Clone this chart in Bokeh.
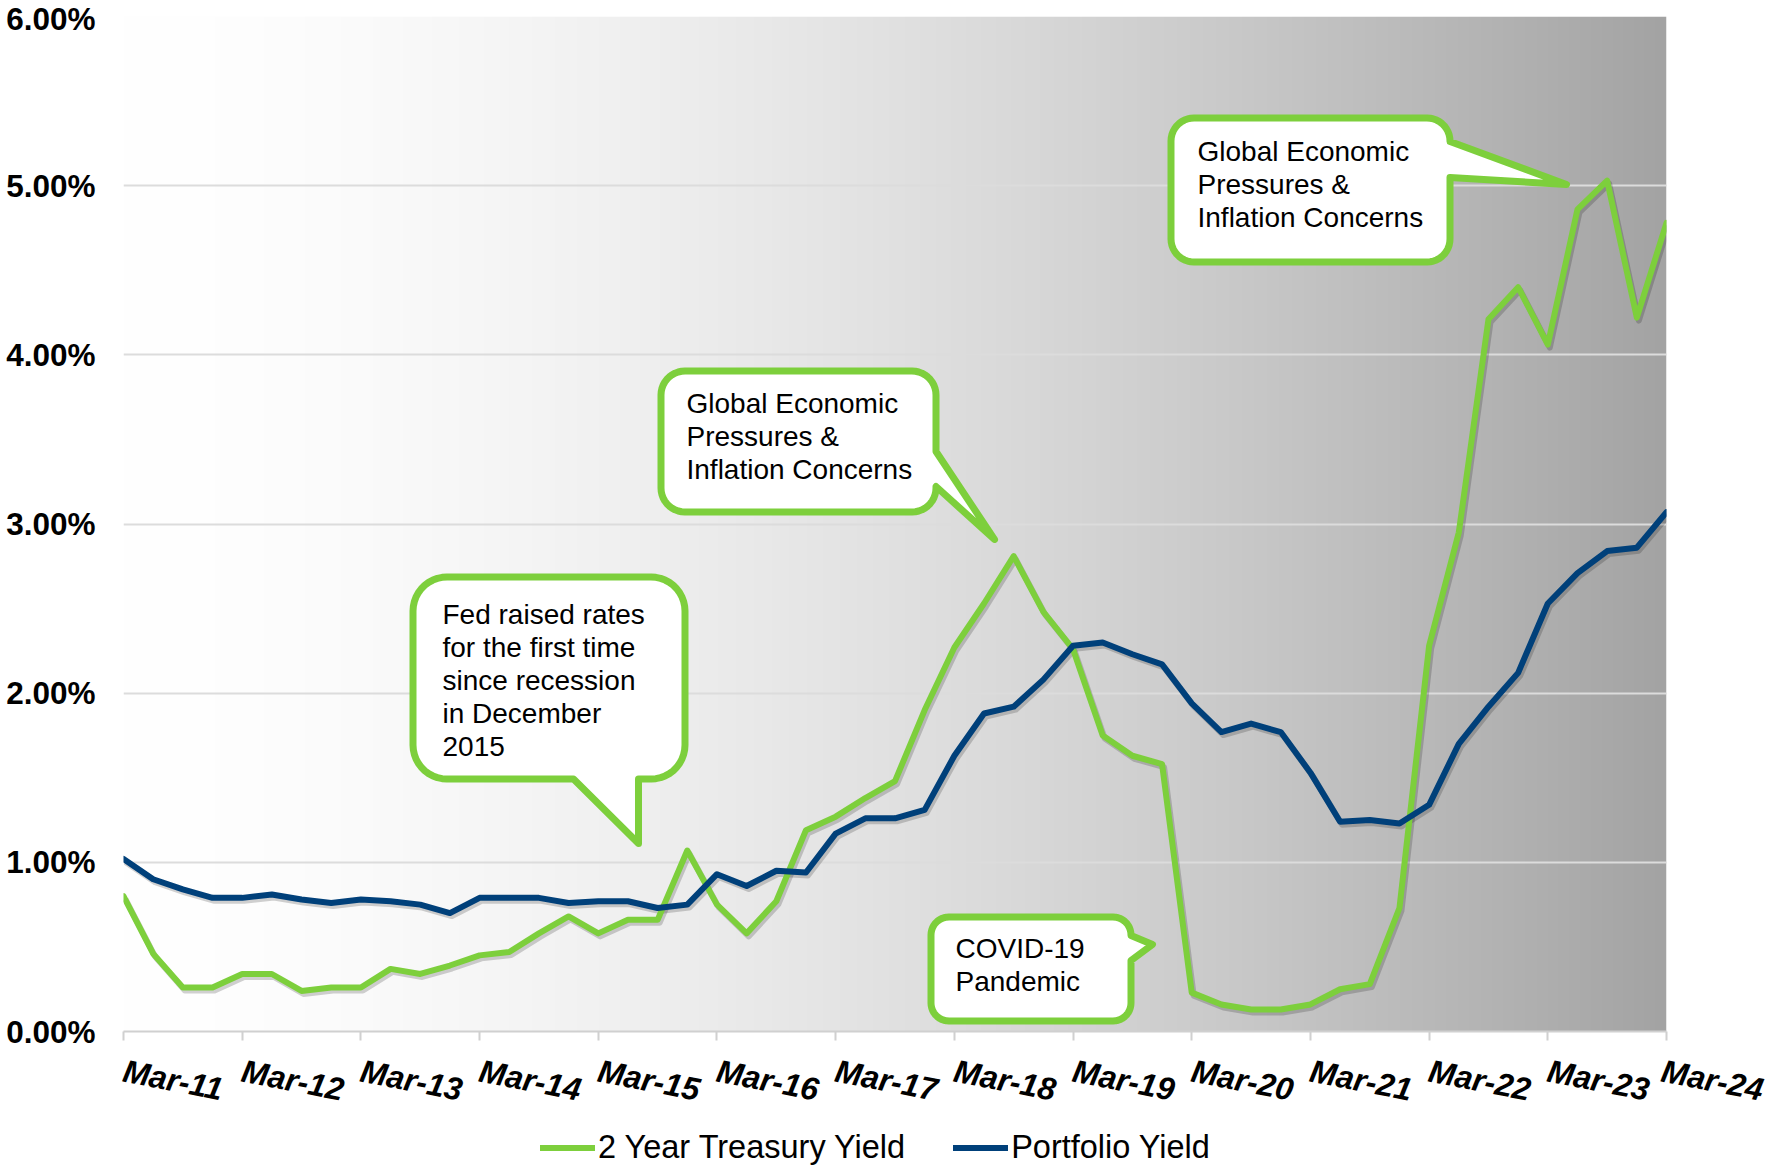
import numpy as np
from bokeh.plotting import figure
from bokeh.layouts import column
from bokeh.models import (Range1d, FixedTicker, PrintfTickFormatter, Legend, LegendItem,
                          Label, ColumnDataSource)
from bokeh.embed import file_html
from bokeh.resources import INLINE

# ---------------- data (quarterly, Mar-11 .. Mar-24) ----------------
tick_labels = ["Mar-11", "Mar-12", "Mar-13", "Mar-14", "Mar-15", "Mar-16", "Mar-17",
               "Mar-18", "Mar-19", "Mar-20", "Mar-21", "Mar-22", "Mar-23", "Mar-24"]

treasury_2y = [0.80, 0.46, 0.26, 0.26, 0.34, 0.34, 0.24, 0.26, 0.26, 0.37,
               0.34, 0.39, 0.45, 0.47, 0.58, 0.68, 0.58, 0.66, 0.66, 1.07,
               0.75, 0.58, 0.77, 1.19, 1.27, 1.38, 1.48, 1.90, 2.27, 2.53,
               2.81, 2.48, 2.26, 1.75, 1.63, 1.58, 0.23, 0.16, 0.13, 0.13,
               0.16, 0.25, 0.28, 0.73, 2.28, 2.95, 4.21, 4.40, 4.06, 4.86,
               5.03, 4.22, 4.78]

portfolio = [1.02, 0.90, 0.84, 0.79, 0.79, 0.81, 0.78, 0.76, 0.78, 0.77,
             0.75, 0.70, 0.79, 0.79, 0.79, 0.76, 0.77, 0.77, 0.73, 0.75,
             0.93, 0.86, 0.95, 0.94, 1.17, 1.26, 1.26, 1.31, 1.63, 1.88,
             1.92, 2.08, 2.28, 2.30, 2.23, 2.17, 1.94, 1.77, 1.82, 1.77,
             1.53, 1.24, 1.25, 1.23, 1.34, 1.70, 1.92, 2.12, 2.53, 2.71,
             2.84, 2.86, 3.07]

series_names = ["2 Year Treasury Yield", "Portfolio Yield"]

y_ticks = [0, 1, 2, 3, 4, 5, 6]

callout_texts = [
    "Fed raised rates\nfor the first time\nsince recession\nin December\n2015",
    "Global Economic\nPressures &\nInflation Concerns",
    "Global Economic\nPressures &\nInflation Concerns",
    "COVID-19\nPandemic",
]

quarter = list(range(len(treasury_2y)))
n_q = len(quarter) - 1
tick_pos = [quarter[i] for i in range(0, len(quarter), 4)]

# ---------------- layout (figure px) ----------------
FL, FR, FT, FB = 123, 1666, 16, 1031          # frame edges
W = 1766                                      # figure width
BOTTOM = 96                                   # border below the frame
LEG_H = 39                                    # height of legend strip
XPX = (FR - FL) / n_q
YPX = (FB - FT) / 6.0

GREEN = "#7DCF3C"
BLUE = "#00407A"
FONT = "Liberation Sans"


def dx(px):
    return (px - FL) / XPX


def dy(py):
    return (FB - py) / YPX


p = figure(frame_width=FR - FL, frame_height=FB - FT,
           x_range=Range1d(0, n_q), y_range=Range1d(0, 6),
           output_backend="svg", toolbar_location=None,
           min_border_left=FL, min_border_right=W - FR,
           min_border_top=FT, min_border_bottom=BOTTOM)
p.outline_line_color = None
p.background_fill_color = "white"
p.border_fill_color = "white"

# background gradient
N = FR - FL
t = np.linspace(0.0, 1.0, N)
g = np.clip(255 - 92 * t ** 1.6, 0, 255).astype(np.uint8)
img = np.zeros((1, N), dtype=np.uint32)
v = img.view(dtype=np.uint8).reshape((1, N, 4))
v[0, :, 0] = g
v[0, :, 1] = g
v[0, :, 2] = g
v[0, :, 3] = 255
p.image_rgba(image=[img], x=0, y=0, dw=n_q, dh=6, level="image")

# grid / axes
p.xgrid.visible = False
p.ygrid.ticker = FixedTicker(ticks=y_ticks)
p.ygrid.grid_line_color = "#dcdcdc"
p.ygrid.grid_line_width = 2

p.yaxis.ticker = FixedTicker(ticks=y_ticks)
p.yaxis.formatter = PrintfTickFormatter(format="%.2f%%")
p.yaxis.axis_line_color = None
p.yaxis.major_tick_line_color = None
p.yaxis.major_tick_out = 0
p.yaxis.major_tick_in = 0
p.yaxis.minor_tick_line_color = None
p.yaxis.major_label_standoff = 28
p.yaxis.major_label_text_font = FONT
p.yaxis.major_label_text_font_style = "bold"
p.yaxis.major_label_text_font_size = "31.5px"
p.yaxis.major_label_text_color = "black"

p.xaxis.ticker = FixedTicker(ticks=tick_pos)
p.xaxis.major_label_overrides = {pos: lab for pos, lab in zip(tick_pos, tick_labels)}
p.xaxis.major_label_orientation = -0.19
p.xaxis.major_label_standoff = 30
p.xaxis.major_label_text_font = FONT
p.xaxis.major_label_text_font_style = "bold italic"
p.xaxis.major_label_text_font_size = "32px"
p.xaxis.major_label_text_color = "black"
p.xaxis.axis_line_color = "#d0d0d0"
p.xaxis.axis_line_width = 2
p.xaxis.major_tick_line_color = "#d0d0d0"
p.xaxis.major_tick_line_width = 2
p.xaxis.major_tick_out = 9
p.xaxis.major_tick_in = 0
p.xaxis.minor_tick_line_color = None

# shadows via shifted ranges
p.extra_x_ranges = {"shx": Range1d(0 - 2 / XPX, n_q - 2 / XPX)}
p.extra_y_ranges = {"shy": Range1d(0 + 3 / YPX, 6 + 3 / YPX)}

src = ColumnDataSource(dict(q=quarter, t2=treasury_2y, pf=portfolio))
for col in ("t2", "pf"):
    p.line("q", col, source=src, x_range_name="shx", y_range_name="shy",
           line_color="black", line_alpha=0.18, line_width=6, line_join="round")

p.line("q", "t2", source=src, line_color=GREEN, line_width=6,
       line_join="round", line_cap="round")
p.line("q", "pf", source=src, line_color=BLUE, line_width=6,
       line_join="round", line_cap="round")


# callouts (rounded rectangles with pointers), defined in figure px
def bubble(x0, y0, x1, y1, r, edge, ptr):
    pts = []

    def arc(cx, cy, a0, a1):
        for a in np.linspace(np.radians(a0), np.radians(a1), 12):
            pts.append((cx + r * np.cos(a), cy + r * np.sin(a)))

    pts.append((x0 + r, y0))
    pts.append((x1 - r, y0))
    arc(x1 - r, y0 + r, -90, 0)
    if edge == "right":
        pts.extend(ptr)
    arc(x1 - r, y1 - r, 0, 90)
    if edge == "bottom":
        pts.extend(ptr)
    arc(x0 + r, y1 - r, 90, 180)
    arc(x0 + r, y0 + r, 180, 270)
    xs = [dx(a) for a, b in pts]
    ys = [dy(b) for a, b in pts]
    return xs, ys


boxes = [
    (412.5, 576.5, 684.5, 778.5, 34, "bottom", [(638, 778.5), (638, 843), (573, 778.5)]),
    (660.5, 370.5, 935.5, 511.5, 24, "right", [(935.5, 451), (994, 539), (935.5, 486)]),
    (1170.5, 117.5, 1449.5, 261.5, 23, "right", [(1449.5, 141), (1566, 184), (1449.5, 177)]),
    (930.5, 916.5, 1130.5, 1020.5, 18, "right", [(1130.5, 935), (1152, 944), (1130.5, 960)]),
]
bx, by = [], []
for b in boxes:
    xs, ys = bubble(*b)
    bx.append(xs)
    by.append(ys)
p.patches(bx, by, fill_color="white", line_color=GREEN, line_width=7, line_join="round")

text_pos = [(442, 598), (686, 387), (1197, 135), (955, 932)]
for (tx, ty), txt in zip(text_pos, callout_texts):
    p.add_layout(Label(x=dx(tx), y=dy(ty), text=txt, text_font=FONT, text_font_size="28px",
                       text_color="black", text_align="left", text_baseline="top",
                       text_line_height=1.07))

# ---------------- legend strip ----------------
pl = figure(width=W, height=LEG_H, x_range=Range1d(0, 1), y_range=Range1d(0, 1),
            x_axis_type=None, y_axis_type=None, output_backend="svg", toolbar_location=None,
            min_border=0, min_border_left=0, min_border_right=0,
            min_border_top=0, min_border_bottom=0)
pl.outline_line_color = None
pl.background_fill_color = "white"
pl.border_fill_color = "white"
pl.xgrid.visible = False
pl.ygrid.visible = False
# legend keys: one point each (a single point draws no line segment)
key_g = pl.line(x=[quarter[0]], y=[-treasury_2y[0]], line_color=GREEN, line_width=6,
                line_cap="round")
key_b = pl.line(x=[quarter[0]], y=[-portfolio[0]], line_color=BLUE, line_width=6,
                line_cap="round")
legend = Legend(items=[LegendItem(label=series_names[0], renderers=[key_g]),
                       LegendItem(label=series_names[1], renderers=[key_b])],
                location=(417, 0), orientation="horizontal",
                glyph_width=55, glyph_height=LEG_H, label_standoff=3, spacing=48,
                padding=0, margin=0, border_line_color=None, background_fill_alpha=0,
                label_text_font=FONT, label_text_font_size="32.5px", label_text_color="black")
pl.add_layout(legend)

open("out.html", "w").write(file_html(column(p, pl, spacing=0), INLINE))
